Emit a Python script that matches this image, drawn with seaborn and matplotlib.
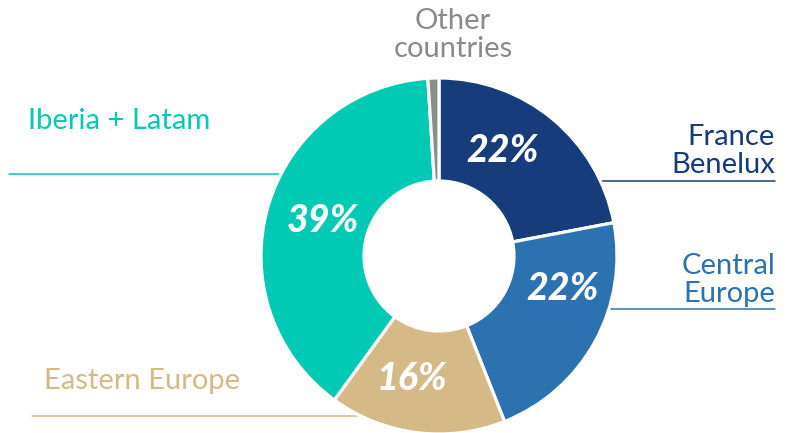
import matplotlib
matplotlib.use("Agg")
import matplotlib.pyplot as plt
import seaborn as sns

# ---- data ----
regions = ["France\nBenelux", "Central\nEurope", "Eastern Europe", "Iberia + Latam", "Other\ncountries"]
shares = [22, 22, 16, 39, 1]
slice_colors = ["#173c7b", "#2c72b1", "#d5b987", "#00c9b4", "#8c8c8c"]
label_colors = ["#173c7b", "#2c72b1", "#d5b987", "#00c9b4", "#8a8a8a"]

sns.set_theme(style="white")
plt.rcParams["font.family"] = ["Lato", "DejaVu Sans"]

W, H = 809, 433
fig = plt.figure(figsize=(W / 100, H / 100), dpi=100)
ax = fig.add_axes([0, 0, 1, 1])

def Y(y):
    return H - y

cx, cy, R, r_in = 439, 256, 178, 75

palette = sns.color_palette(slice_colors)
wedges, _ = ax.pie(shares, colors=palette, startangle=90, counterclock=False,
                   radius=R, center=(cx, Y(cy)), frame=True,
                   wedgeprops=dict(width=R - r_in, edgecolor="white", linewidth=2.3))
for w in wedges:
    w.set_zorder(3)
ax.set_xlim(0, W)
ax.set_ylim(0, H)
ax.set_aspect("equal")
ax.axis("off")

# percent labels
pct_pos = [(503, 150), (563, 289), (412, 378), (323, 221)]
for (px, py), v in zip(pct_pos, shares[:4]):
    ax.text(px, Y(py), f"{v}%", color="white", fontsize=27, fontweight="black",
            fontstyle="italic", ha="center", va="center", zorder=5)

# region labels and leader lines
fs = 21
ls = 1.06
ax.text(775, Y(151), regions[0], color=label_colors[0], fontsize=fs, ha="right",
        va="center", linespacing=ls, zorder=5)
ax.plot([600, 775], [Y(181), Y(181)], color=label_colors[0], lw=1.1, zorder=1)

ax.text(775, Y(280), regions[1], color=label_colors[1], fontsize=fs, ha="right",
        va="center", linespacing=ls, zorder=5)
ax.plot([560, 775], [Y(309), Y(309)], color=label_colors[1], lw=1.1, zorder=1)

ax.text(44, Y(381), regions[2], color=label_colors[2], fontsize=fs, ha="left",
        va="center", zorder=5)
ax.plot([32, 400], [Y(416), Y(416)], color=label_colors[2], lw=1.1, zorder=1)

ax.text(28, Y(121), regions[3], color=label_colors[3], fontsize=fs, ha="left",
        va="center", zorder=5)
ax.plot([9, 320], [Y(174), Y(174)], color=label_colors[3], lw=1.1, zorder=1)

ax.text(453, Y(35), regions[4], color=label_colors[4], fontsize=fs, ha="center",
        va="center", linespacing=ls, zorder=5)

fig.savefig("out.png", dpi=100)
